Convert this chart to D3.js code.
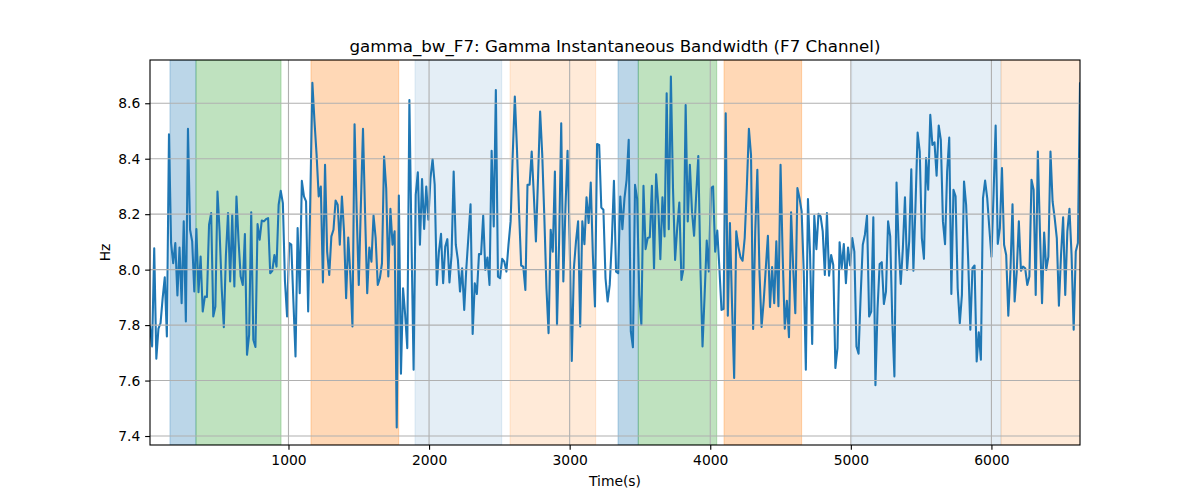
<!DOCTYPE html>
<html>
<head>
<meta charset="utf-8">
<script src="https://cdn.jsdelivr.net/npm/d3@7"></script>
<style>
  html, body { margin: 0; padding: 0; background: #fff; }
  svg { display: block; font-family: "DejaVu Sans", sans-serif; }
</style>
</head>
<body>
<svg id="chart" width="1200" height="500"></svg>
<script>
// ---- data ----
const titleText = "gamma_bw_F7: Gamma Instantaneous Bandwidth (F7 Channel)";
const xLabel = "Time(s)";
const yLabel = "Hz";
const timeStep = 15;
const xTicks = [1000, 2000, 3000, 4000, 5000, 6000];
const yTicks = [7.4, 7.6, 7.8, 8.0, 8.2, 8.4, 8.6];

const bandwidth = [
7.795,7.723,8.077,7.679,7.787,7.807,7.897,7.972,7.759,8.488,
8.096,8.023,8.096,7.907,8.080,7.879,8.174,7.813,8.508,8.144,
8.102,7.921,8.146,7.919,8.047,7.849,7.903,7.901,8.162,8.204,
7.831,7.867,8.282,8.138,7.933,7.792,8.053,8.204,7.957,8.198,
7.939,8.264,8.102,7.975,7.945,8.128,7.693,7.765,8.207,7.747,
7.721,8.164,8.108,8.177,8.174,8.182,8.186,7.987,7.996,8.053,
8.011,8.234,8.284,8.240,7.957,
7.831,8.096,8.090,7.885,7.687,8.150,7.915,8.320,8.264,8.246,
7.849,8.250,8.674,8.534,8.414,8.264,8.300,7.954,8.378,8.065,
7.981,8.120,8.144,8.249,8.234,8.090,8.264,8.138,7.897,8.116,
7.981,7.795,
8.524,8.210,7.945,8.234,8.508,8.198,7.915,8.080,8.029,8.195,
8.114,7.945,7.969,8.023,8.408,8.294,7.975,8.219,8.090,8.138,
7.431,8.267,7.625,7.933,7.837,7.717,8.612,8.102,7.639,8.270,
8.351,8.090,
8.327,8.147,8.300,8.180,8.330,8.399,8.306,7.945,8.065,8.129,
7.951,8.083,8.110,7.954,8.053,8.354,8.090,8.035,7.921,8.005,
7.855,8.005,8.120,8.236,7.768,7.951,7.912,8.056,8.056,8.195,
7.999,8.044,7.945,8.429,8.156,8.648,7.975,7.969,8.039,8.029,
7.993,8.090,8.174,8.414,8.624,8.438,8.210,8.015,8.011,7.927,
8.306,8.306,8.426,8.270,8.102,8.330,8.570,8.414,8.186,7.933,
7.771,8.144,8.065,8.354,
7.801,8.102,8.528,7.957,8.222,8.429,8.102,7.671,8.005,8.102,
8.174,7.795,8.174,8.092,8.261,8.168,8.314,8.053,7.867,8.453,
8.450,8.224,8.216,7.969,7.885,7.945,8.102,8.320,7.993,7.987,
8.264,8.146,8.258,8.324,8.468,7.777,7.720,8.306,8.255,7.909,
7.801,8.302,8.074,8.114,8.117,8.302,8.002,8.344,8.234,8.038,
8.261,8.120,8.636,8.146,8.696,8.294,8.035,8.150,8.242,7.963,
8.005,8.594,8.174,8.378,
8.210,8.122,8.270,8.410,8.005,7.723,7.909,8.105,7.993,8.294,
8.300,8.065,8.141,8.005,7.855,7.858,8.564,7.834,8.168,7.873,
7.609,8.138,8.083,8.045,8.032,8.114,8.294,8.508,8.414,7.786,
8.138,8.360,7.993,7.793,7.885,8.005,8.122,7.865,8.009,7.879,
8.102,7.868,8.378,8.053,7.787,7.888,7.756,8.207,8.005,7.843,
8.294,8.258,8.210,7.993,7.639,8.255,8.053,7.732,8.194,8.074,
8.201,8.192,8.138,7.981,
8.204,7.978,8.053,8.017,7.645,7.717,8.099,8.005,8.092,7.951,
8.080,8.015,8.114,8.065,7.723,7.697,7.909,8.090,8.126,8.195,
7.831,7.849,8.189,7.583,7.861,8.020,8.027,7.876,7.921,8.174,
8.120,7.813,7.615,8.314,8.090,7.948,8.077,8.261,7.999,8.102,
8.362,7.996,8.234,8.494,8.426,8.114,8.039,8.402,8.288,8.558,
8.450,8.459,8.339,8.520,8.468,8.174,8.092,8.354,8.476,7.912,
8.288,8.264,7.933,7.807,
7.909,8.318,8.234,8.029,7.783,8.005,8.015,7.669,7.774,7.675,
8.258,8.321,8.258,8.150,8.047,8.270,8.520,8.093,8.150,8.366,
8.090,8.053,7.834,7.993,8.236,7.885,7.993,8.174,7.996,8.011,
8.005,7.945,7.975,8.324,8.288,7.909,8.426,8.138,7.879,8.134,
7.999,8.047,8.426,8.246,8.186,8.114,7.870,8.053,8.189,7.909,
8.138,8.219,8.053,7.783,8.065,8.096,8.672
];
const times = bandwidth.map((_, i) => timeStep * (i + 1));

// shaded phases
const spanStarts = [157, 342, 1160, 1900, 2576, 3344, 3488, 4098, 5006, 6068];
const spanEnds   = [342, 947, 1784, 2517, 3185, 3488, 4046, 4650, 6068, 6640];
const spanKinds  = ["blueDark","green","orange","blueLight","orangeLight","blueDark","green","orange","blueLight","orangeLight"];
const spanStyles = {
  blueDark:    { color: "#1f77b4", alpha: 0.3 },
  green:       { color: "#2ca02c", alpha: 0.3 },
  orange:      { color: "#ff7f0e", alpha: 0.3 },
  blueLight:   { color: "#1f77b4", alpha: 0.12 },
  orangeLight: { color: "#ff7f0e", alpha: 0.16 }
};

// ---- layout ----
const W = 1200, H = 500;
const m = { left: 150, right: 1080, top: 60, bottom: 445 };
const pt = 100 / 72;
const svg = d3.select("#chart");

const x = d3.scaleLinear().domain([times[0], times[times.length - 1]]).range([m.left, m.right]);
const y = d3.scaleLinear().domain([7.3676, 8.756]).range([m.bottom, m.top]);

svg.append("defs").append("clipPath").attr("id", "clip")
  .append("rect").attr("x", m.left).attr("y", m.top)
  .attr("width", m.right - m.left).attr("height", m.bottom - m.top);

const plot = svg.append("g").attr("clip-path", "url(#clip)");

// spans
const spans = spanStarts.map((s, i) => ({ s, e: spanEnds[i], k: spanKinds[i] }));
plot.selectAll("rect.span").data(spans).join("rect")
  .attr("class", "span")
  .attr("x", d => x(d.s))
  .attr("y", m.top)
  .attr("width", d => x(d.e) - x(d.s))
  .attr("height", m.bottom - m.top)
  .attr("fill", d => spanStyles[d.k].color)
  .attr("fill-opacity", d => spanStyles[d.k].alpha)
  .attr("stroke", d => spanStyles[d.k].color)
  .attr("stroke-opacity", d => spanStyles[d.k].alpha)
  .attr("stroke-width", 1);

// grid
const grid = svg.append("g");
grid.selectAll("line.gx").data(xTicks).join("line")
  .attr("x1", d => x(d)).attr("x2", d => x(d))
  .attr("y1", m.top).attr("y2", m.bottom)
  .attr("stroke", "#b0b0b0").attr("stroke-width", 0.8 * pt);
grid.selectAll("line.gy").data(yTicks).join("line")
  .attr("y1", d => y(d)).attr("y2", d => y(d))
  .attr("x1", m.left).attr("x2", m.right)
  .attr("stroke", "#b0b0b0").attr("stroke-width", 0.8 * pt);

// line
const line = d3.line().x((d, i) => x(times[i])).y(d => y(d));
plot.append("path").datum(bandwidth)
  .attr("d", line)
  .attr("fill", "none")
  .attr("stroke", "#1f77b4")
  .attr("stroke-width", 1.5 * pt)
  .attr("stroke-linejoin", "round")
  .attr("stroke-linecap", "square");

// axes
const xAxis = d3.axisBottom(x).tickValues(xTicks).tickFormat(d3.format("d")).tickSize(3.5 * pt).tickPadding(3.5 * pt);
const yAxis = d3.axisLeft(y).tickValues(yTicks).tickFormat(d3.format(".1f")).tickSize(3.5 * pt).tickPadding(3.5 * pt);

const gx = svg.append("g").attr("transform", `translate(0,${m.bottom})`).call(xAxis);
const gy = svg.append("g").attr("transform", `translate(${m.left},0)`).call(yAxis);
[gx, gy].forEach(g => {
  g.select(".domain").remove();
  g.selectAll(".tick line").attr("stroke", "#000").attr("stroke-width", 0.8 * pt);
  g.selectAll(".tick text").attr("fill", "#000")
    .style("font-family", "'DejaVu Sans', sans-serif").style("font-size", (10 * pt) + "px");
});

// frame
svg.append("rect").attr("x", m.left).attr("y", m.top)
  .attr("width", m.right - m.left).attr("height", m.bottom - m.top)
  .attr("fill", "none").attr("stroke", "#000").attr("stroke-width", 0.8 * pt);

// labels
svg.append("text").attr("x", (m.left + m.right) / 2).attr("y", 52)
  .attr("text-anchor", "middle").style("font-size", (12 * pt) + "px").attr("fill", "#000")
  .text(titleText);
svg.append("text").attr("x", (m.left + m.right) / 2).attr("y", 486)
  .attr("text-anchor", "middle").style("font-size", (10 * pt) + "px").attr("fill", "#000")
  .text(xLabel);
svg.append("text").attr("transform", `translate(110,${(m.top + m.bottom) / 2}) rotate(-90)`)
  .attr("text-anchor", "middle").style("font-size", (10 * pt) + "px").attr("fill", "#000")
  .text(yLabel);
</script>
</body>
</html>
